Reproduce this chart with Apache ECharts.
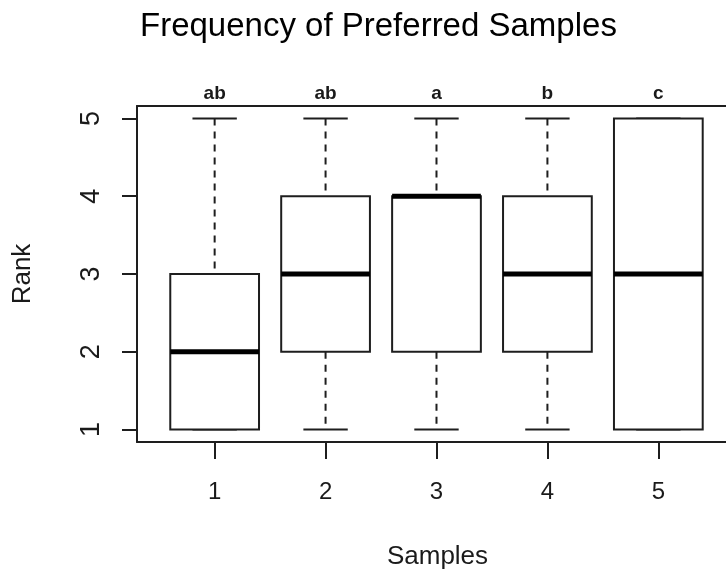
<!DOCTYPE html>
<html>
<head>
<meta charset="utf-8">
<script src="https://cdn.jsdelivr.net/npm/echarts@6/dist/echarts.min.js"></script>
<style>
  html, body { margin: 0; padding: 0; background: #fff; }
  #main { width: 726px; height: 578px; }
</style>
</head>
<body>
<div id="main"></div>
<script type="text/javascript">
// 样本编号与箱线图五数
var samples = [1, 2, 3, 4, 5];
var lowerWhisker = [1, 1, 1, 1, 1];
var lowerQuartile = [1, 2, 2, 2, 1];
var medians = [2, 3, 4, 3, 3];
var upperQuartile = [3, 4, 4, 4, 5];
var upperWhisker = [5, 5, 5, 5, 5];
var groupLetters = ['ab', 'ab', 'a', 'b', 'c'];
var rankTicks = [1, 2, 3, 4, 5];

var lineColor = '#1e1e1e';
var boxHalf = 0.4;    // 箱体半宽（x 轴单位）
var capHalf = 0.2;    // 须线端帽半宽
var letterLevel = 5.32;

var boxData = [];
for (var i = 0; i < samples.length; i++) {
  boxData.push([samples[i], lowerWhisker[i], lowerQuartile[i], medians[i], upperQuartile[i], upperWhisker[i], i]);
}

var chart = echarts.init(document.getElementById('main'));

function renderBox(params, api) {
  var x = api.value(0);
  var lo = api.value(1), q1 = api.value(2), med = api.value(3), q3 = api.value(4), hi = api.value(5);
  var idx = api.value(6);
  var pL = api.coord([x - boxHalf, q3]);
  var pR = api.coord([x + boxHalf, q1]);
  var pMedL = api.coord([x - boxHalf, med]);
  var pMedR = api.coord([x + boxHalf, med]);
  var pHi = api.coord([x, hi]);
  var pQ3 = api.coord([x, q3]);
  var pQ1 = api.coord([x, q1]);
  var pLo = api.coord([x, lo]);
  var capL = api.coord([x - capHalf, hi])[0];
  var capR = api.coord([x + capHalf, hi])[0];
  var pLetter = api.coord([x, letterLevel]);
  var thin = { stroke: lineColor, lineWidth: 2, fill: null };
  var dashed = { stroke: lineColor, lineWidth: 2, lineDash: [7, 6], fill: null };
  var children = [
    { type: 'line', shape: { x1: pHi[0], y1: pHi[1], x2: pQ3[0], y2: pQ3[1] }, style: dashed },
    { type: 'line', shape: { x1: pQ1[0], y1: pQ1[1], x2: pLo[0], y2: pLo[1] }, style: dashed },
    { type: 'line', shape: { x1: capL, y1: pHi[1], x2: capR, y2: pHi[1] }, style: thin },
    { type: 'line', shape: { x1: capL, y1: pLo[1], x2: capR, y2: pLo[1] }, style: thin },
    { type: 'rect', shape: { x: pL[0], y: pL[1], width: pR[0] - pL[0], height: pR[1] - pL[1] },
      style: { stroke: lineColor, lineWidth: 2, fill: '#ffffff' } },
    { type: 'line', shape: { x1: pMedL[0], y1: pMedL[1], x2: pMedR[0], y2: pMedR[1] },
      style: { stroke: '#000000', lineWidth: 5 } },
    { type: 'text', x: pLetter[0], y: pLetter[1],
      style: { text: groupLetters[idx], fill: '#1a1a1a', font: 'bold 19px "Liberation Sans", Arial, sans-serif',
               textAlign: 'center', textVerticalAlign: 'middle' } }
  ];
  return { type: 'group', children: children };
}

var frameLine = { show: true, lineStyle: { color: lineColor, width: 2 } };

var option = {
  backgroundColor: '#ffffff',
  animation: false,
  title: {
    text: 'Frequency of Preferred Samples',
    left: 135,
    top: 5,
    textStyle: { fontFamily: '"Liberation Sans", Arial, sans-serif', fontSize: 33, fontWeight: 'normal', color: '#000' }
  },
  grid: {
    left: 137, right: 0, top: 106, bottom: 136
  },
  xAxis: [{
    type: 'value',
    min: 0.3, max: 5.61,
    name: 'Samples',
    nameLocation: 'middle',
    nameGap: 102,
    nameTextStyle: { fontFamily: '"Liberation Sans", Arial, sans-serif', fontSize: 26, color: '#1a1a1a',
                     padding: [0, 0, 0, 12] },
    axisLine: frameLine,
    splitLine: { show: false },
    axisTick: { show: true, customValues: samples, length: 17, lineStyle: { color: lineColor, width: 2 } },
    axisLabel: { customValues: samples, margin: 38, fontSize: 24, color: '#1a1a1a',
                 fontFamily: '"Liberation Sans", Arial, sans-serif' }
  }, {
    type: 'value',
    position: 'top',
    min: 0.3, max: 5.61,
    axisLine: frameLine,
    axisTick: { show: false },
    axisLabel: { show: false },
    splitLine: { show: false }
  }],
  yAxis: {
    type: 'value',
    min: 0.84, max: 5.16,
    name: 'Rank',
    nameLocation: 'middle',
    nameRotate: 90,
    nameGap: 101,
    nameTextStyle: { fontFamily: '"Liberation Sans", Arial, sans-serif', fontSize: 26, color: '#1a1a1a' },
    axisLine: frameLine,
    splitLine: { show: false },
    axisTick: { show: true, customValues: rankTicks, length: 15, lineStyle: { color: lineColor, width: 2 } },
    axisLabel: { customValues: rankTicks, rotate: 90, margin: 32, fontSize: 27, color: '#1a1a1a',
                 fontFamily: '"Liberation Sans", Arial, sans-serif' }
  },
  series: [{
    type: 'custom',
    renderItem: renderBox,
    clip: false,
    encode: { x: 0, y: [1, 2, 3, 4, 5] },
    data: boxData
  }]
};

chart.setOption(option);
</script>
</body>
</html>
